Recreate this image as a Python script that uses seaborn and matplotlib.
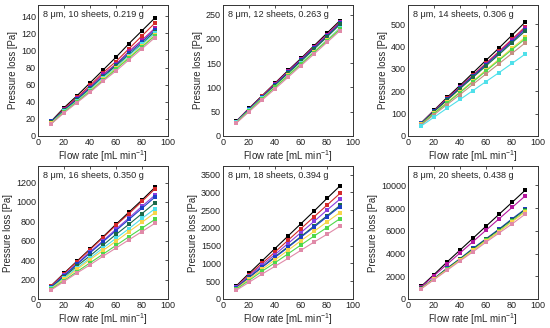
import numpy as np
import pandas as pd
import matplotlib
matplotlib.use("Agg")
import matplotlib.pyplot as plt
import seaborn as sns

flow = [10, 20, 30, 40, 50, 60, 70, 80, 90]

colors = {
    "black": "#000000", "red": "#d42a2a", "magenta": "#b5179e", "purple": "#8a3ee0",
    "blue": "#1c3fc4", "dkgreen": "#1b6a4a", "cyan": "#4fe0ea", "yellow": "#f7d54a",
    "green": "#4fd84a", "pink": "#e08aa8", "brown": "#c49080",
}

titles = ["8 μm, 10 sheets, 0.219 g", "8 μm, 12 sheets, 0.263 g", "8 μm, 14 sheets, 0.306 g",
          "8 μm, 16 sheets, 0.350 g", "8 μm, 18 sheets, 0.394 g", "8 μm, 20 sheets, 0.438 g"]

p10 = {
    "black": [17, 33, 47, 62, 77, 92, 108, 123, 138],
    "red": [16, 32, 45, 59, 74, 87, 102, 117, 132],
    "magenta": [16, 31, 44, 57, 72, 84, 99, 112, 126],
    "blue": [17, 30, 43, 56, 70, 83, 97, 110, 124],
    "dkgreen": [16, 30, 42, 55, 69, 82, 95, 108, 122],
    "cyan": [15, 29, 41, 54, 68, 80, 94, 107, 120],
    "yellow": [15, 28, 40, 53, 66, 79, 92, 105, 118],
    "green": [14, 28, 40, 52, 65, 78, 91, 104, 117],
    "pink": [14, 27, 39, 51, 64, 76, 89, 102, 115],
}
p12 = {
    "black": [30, 57, 83, 109, 135, 160, 186, 212, 238],
    "red": [29, 56, 82, 108, 133, 158, 184, 209, 235],
    "magenta": [29, 56, 81, 107, 133, 158, 183, 209, 234],
    "blue": [29, 55, 80, 105, 131, 156, 181, 206, 232],
    "dkgreen": [28, 54, 79, 104, 129, 154, 179, 204, 230],
    "cyan": [28, 53, 78, 102, 126, 150, 174, 198, 223],
    "yellow": [27, 52, 77, 101, 125, 149, 173, 197, 221],
    "green": [27, 52, 76, 100, 124, 148, 172, 196, 220],
    "pink": [26, 50, 74, 97, 121, 145, 169, 193, 217],
}
p14 = {
    "black": [58, 115, 172, 226, 282, 338, 393, 450, 508],
    "red": [57, 113, 168, 220, 272, 325, 378, 432, 487],
    "magenta": [56, 112, 166, 218, 270, 322, 375, 428, 482],
    "blue": [56, 110, 163, 215, 267, 318, 370, 422, 475],
    "dkgreen": [55, 108, 160, 211, 262, 313, 364, 416, 468],
    "yellow": [52, 102, 150, 198, 246, 295, 343, 392, 440],
    "green": [51, 100, 147, 194, 242, 290, 338, 386, 433],
    "brown": [49, 95, 140, 185, 231, 277, 323, 369, 415],
    "cyan": [44, 84, 124, 163, 203, 243, 283, 324, 365],
}
p16 = {
    "black": [135, 265, 390, 515, 640, 770, 895, 1020, 1150],
    "red": [133, 260, 385, 508, 632, 760, 880, 1005, 1135],
    "purple": [125, 245, 365, 485, 600, 720, 835, 955, 1070],
    "blue": [122, 240, 357, 475, 590, 705, 820, 935, 1050],
    "dkgreen": [115, 228, 340, 445, 555, 665, 770, 880, 990],
    "cyan": [110, 215, 320, 420, 525, 625, 725, 830, 930],
    "yellow": [105, 205, 305, 405, 500, 595, 695, 790, 890],
    "green": [98, 190, 282, 372, 462, 552, 642, 730, 820],
    "pink": [92, 180, 268, 352, 440, 525, 610, 695, 780],
}
p18 = {
    "black": [360, 720, 1070, 1420, 1770, 2120, 2470, 2830, 3180],
    "red": [340, 680, 1000, 1320, 1650, 1980, 2310, 2640, 2970],
    "purple": [330, 650, 950, 1250, 1560, 1870, 2180, 2500, 2810],
    "dkgreen": [310, 610, 900, 1190, 1470, 1760, 2050, 2340, 2630],
    "blue": [305, 600, 890, 1170, 1450, 1740, 2020, 2310, 2600],
    "yellow": [290, 560, 830, 1100, 1370, 1640, 1900, 2170, 2430],
    "green": [270, 520, 780, 1020, 1270, 1520, 1770, 2010, 2260],
    "pink": [240, 470, 700, 920, 1140, 1370, 1600, 1820, 2050],
}
p20 = {
    "black": [1100, 2150, 3250, 4300, 5350, 6400, 7450, 8500, 9550],
    "magenta": [1050, 2050, 3050, 4050, 5050, 6050, 7050, 8050, 9050],
    "blue": [950, 1800, 2700, 3550, 4450, 5300, 6150, 7050, 7900],
    "dkgreen": [940, 1790, 2680, 3520, 4400, 5250, 6100, 6980, 7850],
    "green": [920, 1750, 2600, 3450, 4300, 5150, 5950, 6850, 7700],
    "yellow": [910, 1740, 2580, 3430, 4270, 5120, 5920, 6800, 7650],
    "pink": [880, 1700, 2520, 3350, 4150, 5000, 5800, 6600, 7450],
}
panels = [p10, p12, p14, p16, p18, p20]
ylims = [153, 270, 585, 1370, 3740, 11700]
yticks = [np.arange(0, 141, 20), np.arange(0, 251, 50), np.arange(0, 501, 100),
          np.arange(0, 1201, 200), np.arange(0, 3501, 500), np.arange(0, 10001, 2000)]
xticks = [0, 20, 40, 60, 80, 100]

sns.set_style("white")
plt.rcParams['font.family'] = ['Liberation Sans', 'DejaVu Sans']
plt.rcParams['mathtext.fontset'] = 'custom'
plt.rcParams['mathtext.rm'] = 'Liberation Sans'

fig = plt.figure(figsize=(5.5, 3.28), dpi=100)
lefts = [38, 223, 408]
rows = [(5, 136), (166, 299)]
W, H = 550, 328
for i, data in enumerate(panels):
    r, c = divmod(i, 3)
    top, bot = rows[r]
    ax = fig.add_axes([lefts[c] / W, 1 - bot / H, 130 / W, (bot - top) / H])
    recs = []
    for name, vals in data.items():
        for x, y in zip(flow, vals):
            recs.append({"flow": x, "p": y, "s": name})
    df = pd.DataFrame(recs)
    order = list(data.keys())
    sns.lineplot(data=df, x="flow", y="p", hue="s", hue_order=order,
                 palette={k: colors[k] for k in order}, marker="s", markersize=2.5,
                 markeredgewidth=0, linewidth=0.8, legend=False, ax=ax)
    ax.set_xlim(0, 100)
    ax.set_ylim(0, ylims[i])
    ax.set_xticks(xticks)
    ax.set_yticks(yticks[i])
    ax.tick_params(direction="in", length=2.5, width=0.6, labelsize=6.5, pad=1.5,
                   top=True, right=True, colors="#333333", labelcolor="#222222")
    for s in ax.spines.values():
        s.set_linewidth(0.7)
        s.set_color("#333333")
    ax.set_xlabel("Flow rate [mL min$\\mathregular{^{-1}}$]", fontsize=7.0, labelpad=1.0)
    ax.set_ylabel("Pressure loss [Pa]", fontsize=6.9, labelpad=2)
    ax.text(0.04, 0.96, titles[i], transform=ax.transAxes, fontsize=6.6,
            va="top", ha="left")

fig.savefig("out.png", dpi=100)
